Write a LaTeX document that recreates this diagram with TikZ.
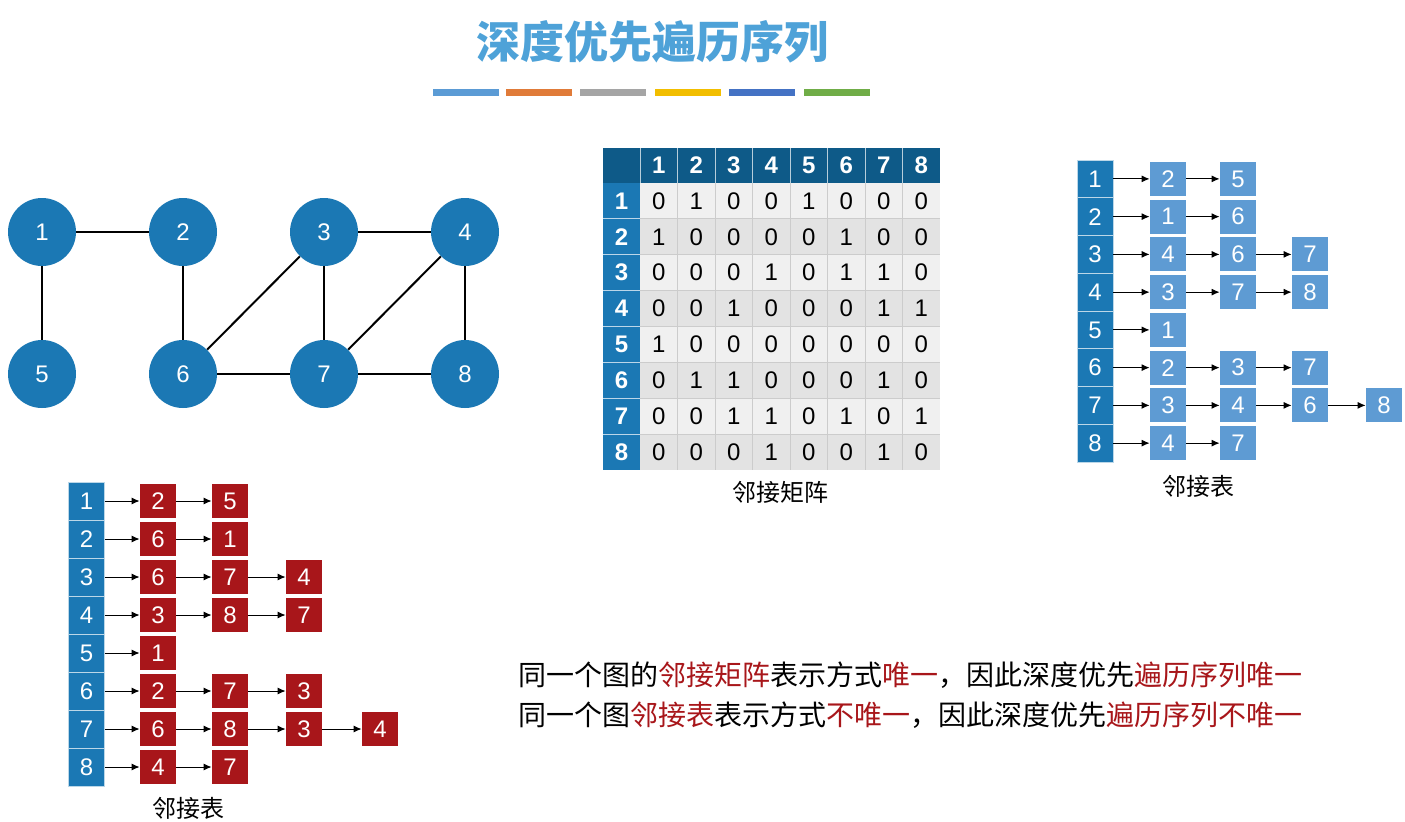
\documentclass[tikz,border=0pt]{standalone}
\usepackage{fontspec}
\setmainfont{Liberation Sans}
\newfontfamily\cjk{Noto Sans CJK SC}
\usetikzlibrary{arrows.meta}
\definecolor{gblue}{HTML}{1B78B4}
\definecolor{hdark}{HTML}{0E5A88}
\definecolor{lblue}{HTML}{5E9BD3}
\definecolor{dred}{HTML}{A8161A}
\definecolor{ttl}{HTML}{4EA2D8}
\begin{document}
\begin{tikzpicture}[x=0.5pt,y=-0.5pt,
  gnode/.style={circle,fill=gblue,minimum size=34pt,inner sep=0pt,text=white,font=\fontsize{12}{12}\selectfont},
  headc/.style={fill=gblue,draw=white!70!gblue,line width=0.4pt,minimum width=18pt,minimum height=18.9pt,inner sep=0pt,text=white,font=\fontsize{12}{12}\selectfont},
  bbox/.style={fill=lblue,minimum width=18pt,minimum height=17pt,inner sep=0pt,text=white,font=\fontsize{12}{12}\selectfont},
  rbox/.style={fill=dred,minimum width=18pt,minimum height=17pt,inner sep=0pt,text=white,font=\fontsize{12}{12}\selectfont},
  arr/.style={-{Latex[length=4pt,width=3.5pt]},line width=0.5pt},
  lab/.style={font=\cjk\fontsize{12}{12}\selectfont},
  edge/.style={line width=1pt}]
\useasboundingbox[fill=white] (0,0) rectangle (1405,821);
% title
\node[font=\cjk\bfseries\fontsize{22}{22}\selectfont,text=ttl] (title) at (652,42) {深度优先遍历序列};
\foreach \xa/\c [count=\k] in {433/5B9BD5,506/E07B39,580/A5A5A5,655/F2BE00,729/4472C4,804/70AD47}{
  \definecolor{bc}{HTML}{\c}
  \fill[bc] (\xa,89) rectangle ++(66,7);
}
% graph
\foreach \n/\x/\y in {1/42/232,2/183/232,3/324/232,4/465/232,5/42/374,6/183/374,7/324/374,8/465/374}
  \node[gnode] (g\n) at (\x,\y) {\n};
\foreach \a/\b in {1/2,1/5,2/6,3/6,3/7,3/4,4/7,4/8,6/7,7/8}
  \draw[edge] (g\a) -- (g\b);
% matrix
\fill[hdark] (603,148) rectangle (940,183);
\fill[gblue] (603,183) rectangle (640,470);
\foreach \r in {1,...,8}{
  \pgfmathsetmacro\ya{183+(\r-1)*35.875}
  \pgfmathsetmacro\yb{183+\r*35.875}
  \pgfmathtruncatemacro\odd{mod(\r,2)}
  \ifnum\odd=1 \fill[black!6] (640,\ya) rectangle (940,\yb); \else \fill[black!11] (640,\ya) rectangle (940,\yb); \fi
  \node[text=white,font=\bfseries\fontsize{12}{12}\selectfont] (rh\r) at (621.5,{(\ya+\yb)/2}) {\r};
  \node[text=white,font=\bfseries\fontsize{12}{12}\selectfont] (ch\r) at ({640+(\r-0.5)*37.5},165.5) {\r};
}
\foreach \x in {1,...,7} \draw[black!20,line width=0.4pt] ({640+\x*37.5},183) -- ({640+\x*37.5},470);
\foreach \x in {1,...,7} \draw[white!70!hdark,line width=0.4pt] ({640+\x*37.5},148) -- ({640+\x*37.5},183);
\draw[white!70!hdark,line width=0.4pt] (640,148) -- (640,183);
\foreach \y in {1,...,7} \draw[black!20,line width=0.4pt] (640,{183+\y*35.875}) -- (940,{183+\y*35.875});
\foreach \y in {1,...,7} \draw[white!70!gblue,line width=0.4pt] (603,{183+\y*35.875}) -- (640,{183+\y*35.875});
\foreach \r/\row in {1/{0,1,0,0,1,0,0,0},2/{1,0,0,0,0,1,0,0},3/{0,0,0,1,0,1,1,0},4/{0,0,1,0,0,0,1,1},5/{1,0,0,0,0,0,0,0},6/{0,1,1,0,0,0,1,0},7/{0,0,1,1,0,1,0,1},8/{0,0,0,1,0,0,1,0}}{
  \foreach \v [count=\c] in \row
    \node[font=\fontsize{12}{12}\selectfont] (m\r-\c) at ({640+(\c-0.5)*37.5},{183+(\r-0.5)*35.875}) {\v};
}
\node[lab] (mlab) at (780,492) {邻接矩阵};
% right adjacency list
\foreach \r/\lst in {1/{2,5},2/{1,6},3/{4,6,7},4/{3,7,8},5/{1},6/{2,3,7},7/{3,4,6,8},8/{4,7}}{
  \node[headc] (R\r) at (1095,{160+(\r-0.5)*37.75}) {\r};
  \foreach \v [count=\c] in \lst {
    \pgfmathsetmacro\xx{{1168,1238,1310,1384}[\c-1]}
    \node[bbox] (R\r-\c) at (\xx,{160+(\r-0.5)*37.75}) {\v};
    \pgfmathtruncatemacro\p{\c-1}
    \ifnum\c=1 \draw[arr] (R\r) -- (R\r-\c); \else \draw[arr] (R\r-\p) -- (R\r-\c); \fi
  }
}
\node[lab] (rlab) at (1198,486) {邻接表};
% left adjacency list
\foreach \r/\lst in {1/{2,5},2/{6,1},3/{6,7,4},4/{3,8,7},5/{1},6/{2,7,3},7/{6,8,3,4},8/{4,7}}{
  \node[headc] (L\r) at (86.5,{482+(\r-0.5)*38}) {\r};
  \foreach \v [count=\c] in \lst {
    \pgfmathsetmacro\xx{{158,230,304,380}[\c-1]}
    \node[rbox] (L\r-\c) at (\xx,{482+(\r-0.5)*38}) {\v};
    \pgfmathtruncatemacro\p{\c-1}
    \ifnum\c=1 \draw[arr] (L\r) -- (L\r-\c); \else \draw[arr] (L\r-\p) -- (L\r-\c); \fi
  }
}
\node[lab] (llab) at (188,808) {邻接表};
% statements
\node[font=\cjk\fontsize{14}{14}\selectfont,anchor=west,inner sep=0pt] (s1) at (518,675) {同一个图的\textcolor{dred}{邻接矩阵}表示方式\textcolor{dred}{唯一}，因此深度优先\textcolor{dred}{遍历序列唯一}};
\node[font=\cjk\fontsize{14}{14}\selectfont,anchor=west,inner sep=0pt] (s2) at (518,715) {同一个图\textcolor{dred}{邻接表}表示方式\textcolor{dred}{不唯一}，因此深度优先\textcolor{dred}{遍历序列不唯一}};
\end{tikzpicture}
\end{document}
